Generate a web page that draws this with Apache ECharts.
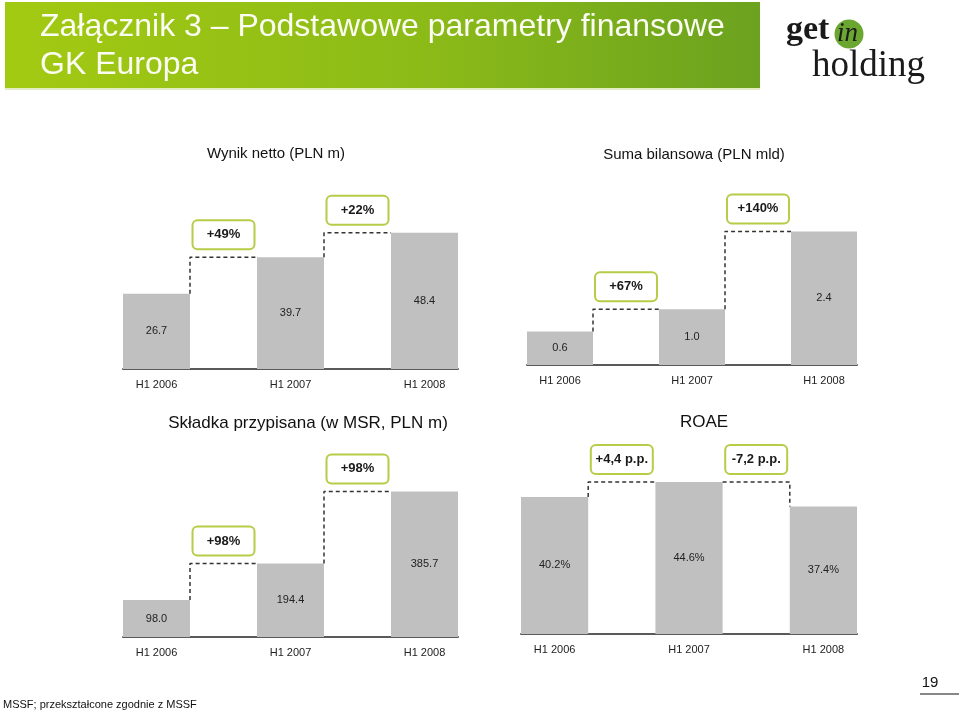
<!DOCTYPE html>
<html>
<head>
<meta charset="utf-8">
<script src="https://cdn.jsdelivr.net/npm/echarts@6/dist/echarts.min.js"></script>
<style>
html,body{margin:0;padding:0;background:#fff;}
#c{width:960px;height:713px;}
</style>
</head>
<body>
<div id="c"></div>
<script>
const categories = ['H1 2006', 'H1 2007', 'H1 2008'];
const netProfit = [26.7, 39.7, 48.4];
const totalAssets = [0.6, 1.0, 2.4];
const premiums = [98.0, 194.4, 385.7];
const roae = [40.2, 44.6, 37.4];
const netProfitChanges = ['+49%', '+22%'];
const totalAssetsChanges = ['+67%', '+140%'];
const premiumsChanges = ['+98%', '+98%'];
const roaeChanges = ['+4,4 p.p.', '-7,2 p.p.'];

const FONT = '"Liberation Sans", Arial, sans-serif';
const chart = echarts.init(document.getElementById('c'), null, {renderer: 'canvas'});

const panels = [
  {values: netProfit, changes: netProfitChanges, grid: {left: 123, width: 335, top: 200, height: 169}, max: 60, fmt: v => v.toFixed(1)},
  {values: totalAssets, changes: totalAssetsChanges, grid: {left: 527, width: 330, top: 198, height: 167}, max: 3, fmt: v => v.toFixed(1)},
  {values: premiums, changes: premiumsChanges, grid: {left: 123, width: 335, top: 486, height: 151}, max: 400, fmt: v => v.toFixed(1)},
  {values: roae, changes: roaeChanges, grid: {left: 521, width: 336, top: 463.5, height: 170.5}, max: 50, fmt: v => v.toFixed(1) + '%'}
];

const grids = [], xAxes = [], yAxes = [], series = [];
panels.forEach((p, gi) => {
  grids.push(Object.assign({}, p.grid));
  const catData = [];
  const barData = [];
  p.values.forEach((v, i) => {
    catData.push(categories[i]);
    barData.push(v);
    if (i < p.values.length - 1) { catData.push(''); barData.push('-'); }
  });
  const catIdx = xAxes.length;
  xAxes.push({
    type: 'category', gridIndex: gi, data: catData, boundaryGap: true,
    axisLine: {show: true, lineStyle: {color: '#5a5a5a', width: 2}},
    axisTick: {show: false},
    axisLabel: {interval: 0, color: '#222', fontSize: 11, fontFamily: FONT, margin: 10}
  });
  const valIdx = xAxes.length;
  xAxes.push({type: 'value', gridIndex: gi, min: -0.5, max: catData.length - 0.5, show: false});
  const yIdx = yAxes.length;
  yAxes.push({type: 'value', gridIndex: gi, min: 0, max: p.max, show: false, splitLine: {show: false}});

  series.push({
    type: 'bar', xAxisIndex: catIdx, yAxisIndex: yIdx, data: barData,
    barWidth: '100%', itemStyle: {color: '#c0c0c0'},
    label: {show: true, position: 'inside', color: '#222', fontSize: 11, fontFamily: FONT,
      formatter: prm => p.fmt(prm.value)}
  });

  const boxData = [];
  for (let i = 0; i < p.values.length - 1; i++) {
    const a = p.values[i], b = p.values[i + 1];
    const x0 = 2 * i + 0.5, x1 = 2 * i + 1.5;
    const pts = b >= a ? [[x0, a], [x0, b], [x1, b]] : [[x0, a], [x1, a], [x1, b]];
    series.push({
      type: 'line', xAxisIndex: valIdx, yAxisIndex: yIdx, data: pts, symbol: 'none',
      lineStyle: {color: '#333', width: 1.5, type: [4, 3]}, z: 3, silent: true
    });
    boxData.push([2 * i + 1, Math.max(a, b)]);
  }
  series.push({
    type: 'custom', xAxisIndex: valIdx, yAxisIndex: yIdx, data: boxData, clip: false, z: 4,
    renderItem: (params, api) => {
      const pt = api.coord([api.value(0), api.value(1)]);
      const w = 62, h = 29, gap = 8;
      return {
        type: 'group',
        children: [
          {type: 'rect', shape: {x: pt[0] - w / 2, y: pt[1] - gap - h, width: w, height: h, r: 5},
            style: {fill: '#fff', stroke: '#b7cc47', lineWidth: 2}},
          {type: 'text', style: {text: p.changes[params.dataIndex], x: pt[0], y: pt[1] - gap - h / 2,
            align: 'center', verticalAlign: 'middle', font: 'bold 13px ' + FONT, fill: '#1a1a1a'}}
        ]
      };
    }
  });
});

const graphic = [
  {type: 'rect', left: 5, top: 2, shape: {width: 755, height: 86},
    style: {fill: new echarts.graphic.LinearGradient(0, 0, 1, 0, [
      {offset: 0, color: '#a3ca12'}, {offset: 0.55, color: '#8cbb18'}, {offset: 1, color: '#6ba21f'}])}},
  {type: 'rect', left: 5, top: 88, shape: {width: 755, height: 2}, style: {fill: '#e3edc4'}},
  {type: 'text', x: 40, y: 27, style: {text: 'Załącznik 3 – Podstawowe parametry finansowe', font: '32px ' + FONT, fill: '#fbfcf2', verticalAlign: 'middle'}},
  {type: 'text', x: 40, y: 65, style: {text: 'GK Europa', font: '32px ' + FONT, fill: '#fbfcf2', verticalAlign: 'middle'}},
  // logo
  {type: 'circle', shape: {cx: 849, cy: 34, r: 14.5}, style: {fill: '#6aa630'}},
  {type: 'text', x: 786, y: 13, style: {text: 'get', font: 'bold 34px "Liberation Serif", serif', fill: '#1a1a1a', verticalAlign: 'top'}},
  {type: 'text', x: 837, y: 20, style: {text: 'in', font: 'italic 27px "Liberation Serif", serif', fill: '#1a1a1a', verticalAlign: 'top'}},
  {type: 'text', x: 812, y: 48, style: {text: 'holding', font: '37px "Liberation Serif", serif', fill: '#1a1a1a', verticalAlign: 'top'}},
  // panel titles
  {type: 'text', x: 276, y: 154, style: {text: 'Wynik netto (PLN m)', font: '15px ' + FONT, fill: '#111', align: 'center', verticalAlign: 'middle'}},
  {type: 'text', x: 694, y: 155, style: {text: 'Suma bilansowa (PLN mld)', font: '15px ' + FONT, fill: '#111', align: 'center', verticalAlign: 'middle'}},
  {type: 'text', x: 308, y: 423, style: {text: 'Składka przypisana (w MSR, PLN m)', font: '17px ' + FONT, fill: '#111', align: 'center', verticalAlign: 'middle'}},
  {type: 'text', x: 704, y: 422, style: {text: 'ROAE', font: '17px ' + FONT, fill: '#111', align: 'center', verticalAlign: 'middle'}},
  // footer
  {type: 'text', x: 3, y: 705, style: {text: 'MSSF; przekształcone zgodnie z MSSF', font: '11px ' + FONT, fill: '#111', verticalAlign: 'middle'}},
  {type: 'text', x: 930, y: 683, style: {text: '19', font: '15px ' + FONT, fill: '#111', align: 'center', verticalAlign: 'middle'}},
  {type: 'line', shape: {x1: 920, y1: 694, x2: 959, y2: 694}, style: {stroke: '#111', lineWidth: 1}}
];

chart.setOption({
  animation: false,
  backgroundColor: '#fff',
  grid: grids,
  xAxis: xAxes,
  yAxis: yAxes,
  series: series,
  graphic: graphic
});
</script>
</body>
</html>
